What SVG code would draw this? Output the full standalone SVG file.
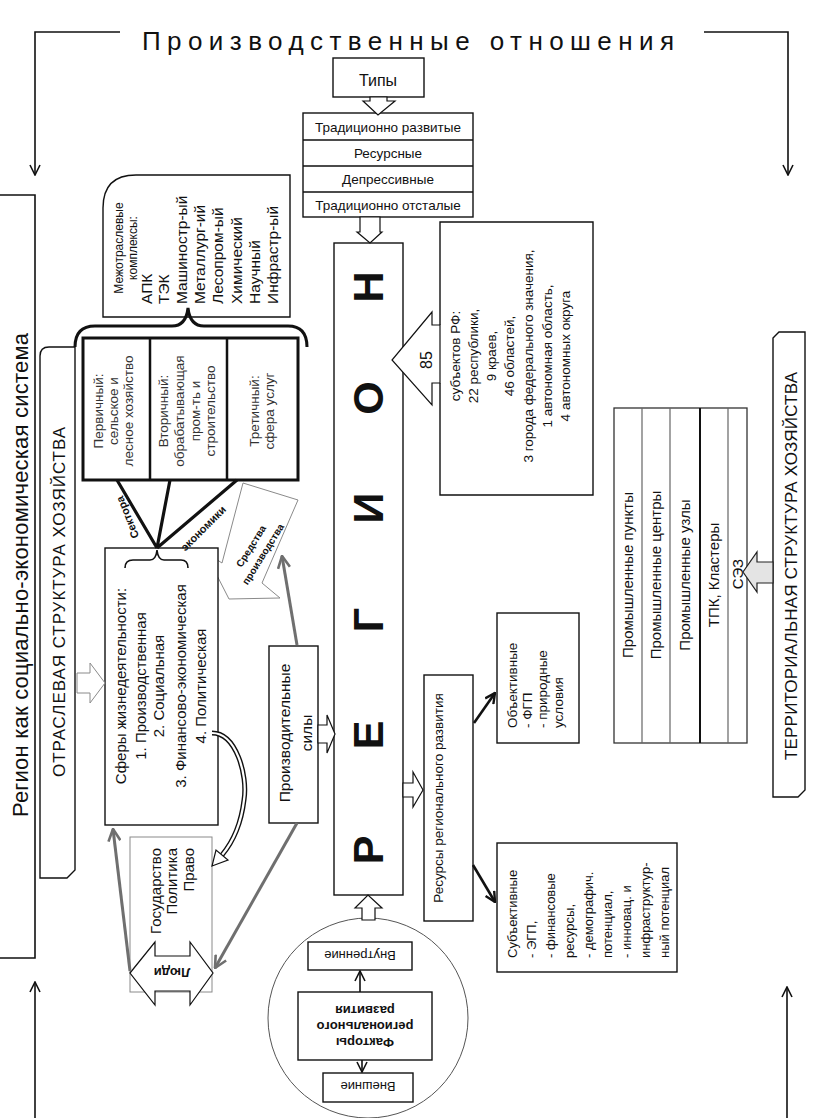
<svg xmlns="http://www.w3.org/2000/svg" width="838" height="1118" viewBox="0 0 838 1118">
<defs>
<style>
text{font-family:"Liberation Sans",Arial,"DejaVu Sans",sans-serif;fill:#111}
.b{fill:#fff;stroke:#111;stroke-width:1.4}
.bk{font-weight:bold}
.ln{fill:none;stroke:#111;stroke-width:1.6}
.th{fill:none;stroke:#111;stroke-width:2.6}
.gr{fill:none;stroke:#6f6f6f;stroke-width:3}
.hw{fill:#fff;stroke:#111;stroke-width:1.2}
.hg{fill:#fff;stroke:#8a8a8a;stroke-width:1}
.m{text-anchor:middle}
.e{text-anchor:end}
.g{fill:#333}
</style>
<marker id="ah" viewBox="0 0 12 12" refX="11" refY="6" markerWidth="12" markerHeight="12" markerUnits="userSpaceOnUse" orient="auto"><path d="M1,1 L11,6 L1,11" fill="none" stroke="#111" stroke-width="1.6"/></marker>
<marker id="ahb" viewBox="0 0 12 12" refX="11" refY="6" markerWidth="12" markerHeight="12" markerUnits="userSpaceOnUse" orient="auto"><path d="M1,1 L11,6 L1,11" fill="none" stroke="#111" stroke-width="2.4"/></marker>
<marker id="ahg" viewBox="0 0 14 14" refX="13" refY="7" markerWidth="14" markerHeight="14" markerUnits="userSpaceOnUse" orient="auto"><path d="M1,1 L13,7 L1,13" fill="none" stroke="#6f6f6f" stroke-width="2.6"/></marker>
</defs>
<rect width="838" height="1118" fill="#fff"/>

<g id="title"><text class="m" x="408" y="50" font-size="26" textLength="532" lengthAdjust="spacing">Производственные отношения</text></g>

<g id="system">
<path class="ln" d="M0,195 H35 V958 H0"/>
<text transform="translate(28,575) rotate(-90)" class="m" font-size="22" textLength="484" lengthAdjust="spacing">Регион как социально-экономическая система</text>
</g>

<g id="branch-tab">
<path class="b" d="M40,356 Q40,347 49,347 H75 V870 L67,878 H40 Z"/>
<text transform="translate(65,602) rotate(-90)" class="m" font-size="17" textLength="350" lengthAdjust="spacing">ОТРАСЛЕВАЯ СТРУКТУРА ХОЗЯЙСТВА</text>
</g>

<g id="complexes">
<path class="b" d="M103,208 Q103,175 136,175 H290 V317 H103 Z"/>
<g font-size="12" class="g">
<text transform="translate(123,248) rotate(-90)" class="m">Межотраслевые</text>
<text transform="translate(137,248) rotate(-90)" class="m">комплексы:</text>
</g>
<g font-size="15.5">
<text transform="translate(152,304) rotate(-90)">АПК</text>
<text transform="translate(169,304) rotate(-90)">ТЭК</text>
<text transform="translate(187,304) rotate(-90)">Машиностр-ый</text>
<text transform="translate(205,304) rotate(-90)">Металлург-ий</text>
<text transform="translate(223,304) rotate(-90)">Лесопром-ый</text>
<text transform="translate(242,304) rotate(-90)">Химический</text>
<text transform="translate(260,304) rotate(-90)">Научный</text>
<text transform="translate(278,304) rotate(-90)">Инфрастр-ый</text>
</g>
<path d="M75,347 Q75,326 95,326 H172 Q186,326 188,308 Q190,326 204,326 H288 Q307,326 307,347" fill="none" stroke="#111" stroke-width="3"/>
</g>

<g id="sectors">
<rect x="83" y="338" width="215" height="142" fill="#fff" stroke="#111" stroke-width="3"/>
<path d="M150,338 V480 M227,338 V480" stroke="#111" stroke-width="2.5"/>
<g font-size="13.5">
<text transform="translate(103,411) rotate(-90)" class="m g">Первичный:</text>
<text transform="translate(118,411) rotate(-90)" class="m g">сельское и</text>
<text transform="translate(133,411) rotate(-90)" class="m g">лесное хозяйство</text>
<text transform="translate(168,411) rotate(-90)" class="m g">Вторичный:</text>
<text transform="translate(184,411) rotate(-90)" class="m g">обрабатывающая</text>
<text transform="translate(200,411) rotate(-90)" class="m g">пром-ть и</text>
<text transform="translate(215,411) rotate(-90)" class="m g">строительство</text>
<text transform="translate(259,411) rotate(-90)" class="m g">Третичный:</text>
<text transform="translate(274,411) rotate(-90)" class="m g">сфера услуг</text>
</g>
</g>

<g id="means">
<polygon points="243,483 298,500 262,583 280,598 229,599 205,552 222,563" fill="#fff" stroke="#8a8a8a" stroke-width="1"/>
<g font-size="10" class="bk">
<text transform="translate(254,548) rotate(-58)" class="m">Средства</text>
<text transform="translate(266,556) rotate(-58)" class="m">производства</text>
</g>
</g>

<g id="spheres">
<rect class="b" x="105" y="548" width="113" height="277"/>
<path class="ln" stroke-width="1.4" d="M125,568 Q125,560 133,560 H150 Q156,560 157,550 Q158,560 164,560 H181 Q188,560 188,568"/>
<g font-size="15">
<text transform="translate(126,686) rotate(-90)" class="m">Сферы жизнедеятельности:</text>
<text transform="translate(146,686) rotate(-90)" class="m">1. Производственная</text>
<text transform="translate(164,686) rotate(-90)" class="m">2. Социальная</text>
<text transform="translate(186,686) rotate(-90)" class="m">3. Финансово-экономическая</text>
<text transform="translate(206,686) rotate(-90)" class="m">4. Политическая</text>
</g>
</g>

<g id="state">
<rect x="130" y="837" width="82" height="155" fill="#fff" stroke="#8a8a8a" stroke-width="1"/>
<g font-size="15">
<text transform="translate(161,848) rotate(-90)" class="e">Государство</text>
<text transform="translate(177,848) rotate(-90)" class="e">Политика</text>
<text transform="translate(194,848) rotate(-90)" class="e">Право</text>
</g>
</g>

<g id="people">
<polygon class="hw" points="130,973 155,942 155,956 190,956 190,942 213,973 190,1005 190,991 155,991 155,1005"/>
<text transform="rotate(180 172 973)" class="m bk" x="172" y="978" font-size="13">Люди</text>
</g>

<g id="forces">
<rect class="b" x="269" y="646" width="49" height="177"/>
<g font-size="15.5">
<text transform="translate(290,733) rotate(-90)" class="m">Производительные</text>
<text transform="translate(312,733) rotate(-90)" class="m">силы</text>
</g>
</g>

<g id="region">
<rect class="b" x="334" y="243" width="69" height="652"/>
<text transform="rotate(-90)" y="383" font-size="43" class="bk m"><tspan x="-850">Р</tspan><tspan x="-735">Е</tspan><tspan x="-620">Г</tspan><tspan x="-508">И</tspan><tspan x="-398">О</tspan><tspan x="-287">Н</tspan></text>
</g>

<g id="types">
<rect class="b" x="333" y="58" width="91" height="39"/>
<text class="m" x="378" y="86" font-size="16">Типы</text>
</g>

<g id="type-list">
<rect class="b" x="303" y="113" width="170" height="104"/>
<path class="ln" stroke-width="1.2" d="M303,140 H473 M303,166 H473 M303,192 H473"/>
<g font-size="13.5">
<text class="m" x="388" y="131.5">Традиционно развитые</text>
<text class="m" x="388" y="158">Ресурсные</text>
<text class="m" x="388" y="184">Депрессивные</text>
<text class="m" x="388" y="210">Традиционно отсталые</text>
</g>
</g>

<g id="subjects">
<path class="b" d="M440,325 V222 H593 V495 H440 V383"/>
<polygon class="hw" points="440,325 432,325 432,312 392,360 432,405 432,383 440,383"/>
<text transform="translate(432,360) rotate(-90)" class="m" font-size="16">85</text>
<g font-size="13.5">
<text transform="translate(460,356) rotate(-90)" class="m">субъектов  РФ:</text>
<text transform="translate(478,356) rotate(-90)" class="m">22 республики,</text>
<text transform="translate(496,356) rotate(-90)" class="m">9 краев,</text>
<text transform="translate(514,356) rotate(-90)" class="m">46 областей,</text>
<text transform="translate(533,356) rotate(-90)" class="m">3 города федерального значения,</text>
<text transform="translate(552,356) rotate(-90)" class="m">1 автономная область,</text>
<text transform="translate(570,356) rotate(-90)" class="m">4 автономных округа</text>
</g>
</g>

<g id="resources">
<rect class="b" x="424" y="675" width="49" height="246"/>
<text transform="translate(443,798) rotate(-90)" class="m" font-size="13.5">Ресурсы регионального развития</text>
</g>

<g id="objective">
<rect class="b" x="497" y="613" width="82" height="130"/>
<g font-size="13.5">
<text transform="translate(517,728) rotate(-90)">Объективные</text>
<text transform="translate(532,728) rotate(-90)">- ФГП</text>
<text transform="translate(547,728) rotate(-90)">- природные</text>
<text transform="translate(563,728) rotate(-90)">условия</text>
</g>
</g>

<g id="subjective">
<rect class="b" x="497" y="843" width="180" height="129"/>
<g font-size="13">
<text transform="translate(517,958) rotate(-90)">Субъективные</text>
<text transform="translate(536,958) rotate(-90)">- ЭГП,</text>
<text transform="translate(555,958) rotate(-90)">- финансовые</text>
<text transform="translate(574,958) rotate(-90)">ресурсы,</text>
<text transform="translate(593,958) rotate(-90)">- демографич.</text>
<text transform="translate(612,958) rotate(-90)">потенциал,</text>
<text transform="translate(631,958) rotate(-90)">- инновац. и</text>
<text transform="translate(650,958) rotate(-90)">инфраструктур-</text>
<text transform="translate(669,958) rotate(-90)">ный потенциал</text>
</g>
</g>

<g id="factors">
<circle cx="368" cy="1018" r="100" fill="none" stroke="#555" stroke-width="1"/>
<rect class="b" x="308" y="942" width="104" height="28"/>
<text transform="rotate(180 360 956)" class="m" x="360" y="961" font-size="13">Внутренние</text>
<rect class="b" x="298" y="992" width="134" height="68"/>
<g transform="rotate(180 365 1026)" font-size="13" class="bk">
<text class="m" x="365" y="1014">Факторы</text>
<text class="m" x="365" y="1030">регионального</text>
<text class="m" x="365" y="1046">развития</text>
</g>
<rect class="b" x="323" y="1073" width="90" height="29"/>
<text transform="rotate(180 368 1087)" class="m" x="368" y="1092" font-size="13">Внешние</text>
</g>

<g id="territorial-tab">
<path class="b" d="M773,338 L779,332 H805 V790 L798,797 H773 Z"/>
<text transform="translate(797,566) rotate(-90)" class="m" font-size="17" textLength="388" lengthAdjust="spacing">ТЕРРИТОРИАЛЬНАЯ СТРУКТУРА ХОЗЯЙСТВА</text>
</g>

<g id="territorial">
<rect x="614" y="408" width="133" height="335" fill="#fff" stroke="#333" stroke-width="1.3"/>
<path d="M642,408 V743 M670,408 V743 M728,408 V743" stroke="#666" stroke-width="1.2"/>
<path d="M700,408 V743" stroke="#111" stroke-width="2"/>
<g font-size="15">
<text transform="translate(633,575) rotate(-90)" class="m">Промышленные пункты</text>
<text transform="translate(661,575) rotate(-90)" class="m">Промышленные центры</text>
<text transform="translate(690,575) rotate(-90)" class="m">Промышленные узлы</text>
<text transform="translate(719,575) rotate(-90)" class="m">ТПК, Кластеры</text>
<text transform="translate(743,574) rotate(-90)" class="m">СЭЗ</text>
</g>
</g>

<g id="connectors">
<path class="ln" d="M120,32 H35 V175" marker-end="url(#ah)"/>
<path class="ln" d="M704,32 H788 V175" marker-end="url(#ah)"/>
<path class="ln" d="M35,1118 V982" marker-end="url(#ah)"/>
<path class="ln" d="M787,1118 V987" marker-end="url(#ah)"/>
<path d="M157,548 L117,480 M157,548 L170,480 M157,548 L237,480" stroke="#111" stroke-width="3.2" fill="none"/>
<text transform="translate(131,516) rotate(-112)" class="m bk" font-size="11">Сектора</text>
<text transform="translate(206,531) rotate(-45)" class="m bk" font-size="11">экономики</text>
<polygon class="hw" points="370,97 387,97 387,101 395,101 378,115 363,101 370,101"/>
<polygon class="hw" points="360,217 380,217 380,232 382,232 370,243 357,232 360,232"/>
<polygon class="hw" points="318,725 327,725 327,715 335,734 327,753 327,743 318,743"/>
<polygon class="hw" points="403,783 413,783 413,772 423,790 413,807 413,797 403,797"/>
<polygon class="hw" points="362,920 362,908 355,908 368,895 382,908 375,908 375,920"/>
<polygon class="hg" points="77,673 90,673 90,663 105,683 90,703 90,693 77,693"/>
<polygon points="773,562 757,562 757,552 743,572 757,592 757,583 773,583" fill="#e4e4e4" stroke="#222" stroke-width="1.2"/>
<path class="th" d="M474,723 L495,693" marker-end="url(#ahb)"/>
<path class="th" d="M473,865 L495,902" marker-end="url(#ahb)"/>
<path class="ln" d="M360,992 V971" marker-end="url(#ah)"/>
<path class="ln" d="M362,1060 V1072" marker-end="url(#ah)"/>
<path class="gr" d="M297,823 L215,968" marker-end="url(#ahg)"/>
<path class="gr" d="M130,971 L113,829" marker-end="url(#ahg)"/>
<path class="gr" d="M297,645 L282,556" marker-end="url(#ahg)"/>
<path d="M212,733 C236,733 248,775 244,800 C241,825 232,843 222,855" fill="none" stroke="#111" stroke-width="5"/>
<path d="M212,733 C236,733 248,775 244,800 C241,825 232,843 222,855" fill="none" stroke="#fff" stroke-width="2.2"/>
<polygon points="212,866 228,860 216,850" fill="#fff" stroke="#111" stroke-width="1.2"/>
</g>
</svg>
